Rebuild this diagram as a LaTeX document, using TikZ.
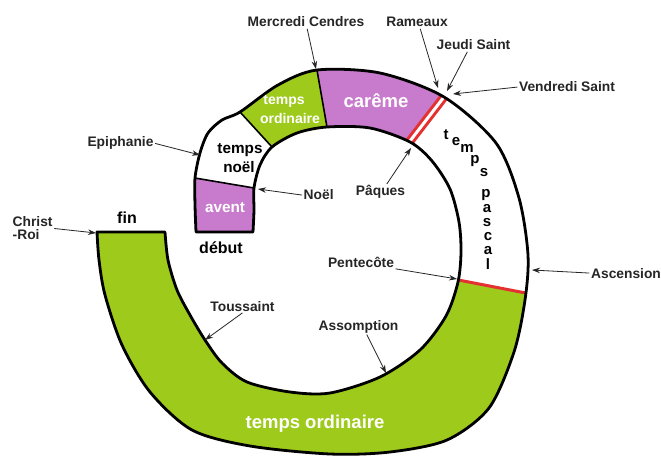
\documentclass[tikz,border=0pt]{standalone}
\usepackage{fontspec}
\setmainfont{Liberation Sans}
\usetikzlibrary{arrows.meta,calc}
\definecolor{ordgreen}{RGB}{158,202,28}
\definecolor{lentpurple}{RGB}{200,122,204}
\definecolor{feastred}{RGB}{228,48,48}
\definecolor{labelgray}{RGB}{38,38,38}
\tikzset{
  lbl/.style={font=\bfseries\fontsize{13.8}{13}\selectfont, text=labelgray, inner sep=1.5pt, anchor=base},
  ringtxt/.style={font=\bfseries\fontsize{#1}{#1}\selectfont, text=white, inner sep=0pt, anchor=base},
  darktxt/.style={font=\bfseries\fontsize{#1}{#1}\selectfont, text=black, inner sep=0pt, anchor=base},
  pletter/.style={font=\bfseries\fontsize{15}{15}\selectfont, text=black, inner sep=0pt, text height=0.52em, text depth=0pt},
  ptr/.style={draw=labelgray, line width=0.8pt, -{Stealth[length=8pt,width=5.5pt]}},
  seasonline/.style={draw=black, line width=1.6pt},
}
\begin{document}
\begin{tikzpicture}[x=1pt,y=-1pt]
\fill[white] (0,0) rectangle (661,457);
\useasboundingbox (0,0) rectangle (661,457);

\def\ringpath{plot[smooth] coordinates {(196,232) (195,205) (195,178) (200,153) (208,133) (222,120) (240,112) (278,85) (317,70) (380,73) (444,97) (496,143) (519,198) (528,255) (525,300) (514,352) (489,408) (447,440) (390,452) (330,454) (250,446) (192,430) (150,392) (122,345) (105,295) (99,260) (97,232)}
  -- plot[smooth] coordinates {(165,232) (168,260) (177,290) (190,315) (205,340) (222,363) (247,382) (290,392) (330,393) (380,377) (420,350) (446,316) (458,282) (461,252) (459,222) (450,189) (432,161) (410,142) (370,128) (327,127) (297,133) (272,147) (260,165) (254,188) (254,210) (253,232)} -- cycle}

% fills of the seasons
\begin{scope}
  \clip \ringpath;
  \fill[lentpurple] (180,233) -- (270,233) -- (270,190.7) -- (180,175.5) -- cycle;
  \fill[ordgreen] (224,94.5) -- (288,164.5) -- (331,150) -- (314,53) -- cycle;
  \fill[lentpurple] (314,53) -- (331,150) -- (400,154) -- (454,84) -- cycle;
  \fill[ordgreen] (448,278) -- (560,300) -- (580,470) -- (50,470) -- (50,225) -- (180,225) -- (180,240) -- (300,240) -- cycle;
  \draw[feastred, line width=9pt] (454,84) -- (400,154);
  \draw[white, line width=3pt] (454,84) -- (400,154);
  \draw[feastred, line width=3pt] (448,278) -- (536,295);
  \draw[seasonline] (180,175.5) -- (270,190.7);
  \draw[seasonline] (224,94.5) -- (288,164.5);
  \draw[seasonline] (314,53) -- (331,150);
\end{scope}
\draw[black, line width=2.8pt, line join=round] \ringpath;

% texts inside the ring
\node[ringtxt=15.3] (avent) at (225,213) {avent};
\node[darktxt=15.3] (tnoel1) at (240,154) {temps};
\node[darktxt=15.3] (tnoel2) at (239,173) {noël};
\node[ringtxt=14] (tord1) at (284,105) {temps};
\node[ringtxt=14] (tord2) at (290,124) {ordinaire};
\node[ringtxt=18.5] (careme) at (376,108) {carême};
\node[ringtxt=18.5] (tordbig) at (315,428) {temps ordinaire};
\node[darktxt=16] (debut) at (221,253) {début};
\node[darktxt=16] (fin) at (127,223) {fin};

\node[pletter] (p1) at (446,137) {t};
\node[pletter] (p2) at (456,143) {e};
\node[pletter] (p3) at (467,150) {m};
\node[pletter] (p4) at (475,161) {p};
\node[pletter] (p5) at (484,174) {s};
\node[pletter] (p6) at (486,195) {p};
\node[pletter] (p7) at (487,210) {a};
\node[pletter] (p8) at (487,224) {s};
\node[pletter] (p9) at (488,238) {c};
\node[pletter] (p10) at (488,252) {a};
\node[pletter] (p11) at (488,267) {l};

% labels
\node[lbl] (merc) at (306,27) {Mercredi Cendres};
\node[lbl] (ram) at (417,27) {Rameaux};
\node[lbl] (jeudi) at (473.5,50) {Jeudi Saint};
\node[lbl] (vend) at (567,92) {Vendredi Saint};
\node[lbl] (epi) at (120.5,147) {Epiphanie};
\node[lbl, anchor=base west] (noel) at (302,200) {Noël};
\node[lbl] (paq) at (380.5,196) {Pâques};
\node[lbl] (pent) at (361,267) {Pentecôte};
\node[lbl] (asc) at (626,278) {Ascension};
\node[lbl] (tous) at (242.5,311) {Toussaint};
\node[lbl] (asso) at (358.5,330) {Assomption};
\node[lbl, anchor=west, align=left] (christ) at (11,228.5) {Christ\\-Roi};

% arrow targets
\coordinate (mercT) at (316,69);
\coordinate (ramT) at (438,88);
\coordinate (jeudiT) at (447,91);
\coordinate (vendT) at (453,94);
\coordinate (epiT) at (200,155);
\coordinate (noelT) at (258,189);
\coordinate (paqT) at (411,148);
\coordinate (pentT) at (457,279);
\coordinate (ascT) at (532,270);
\coordinate (tousT) at (205,340);
\coordinate (assoT) at (386,373);
\coordinate (christT) at (96,233);

\draw[ptr] ($(merc.south west)!.51!(merc.south east)$) -- (mercT);
\draw[ptr] ($(ram.south west)!.55!(ram.south east)$) -- (ramT);
\draw[ptr] ($(jeudi.south west)!.42!(jeudi.south east)$) -- (jeudiT);
\draw[ptr] (vend.west) -- (vendT);
\draw[ptr] (epi.east) -- (epiT);
\draw[ptr] (noel.west) -- (noelT);
\draw[ptr] ($(paq.north west)!.62!(paq.north east)$) -- (paqT);
\draw[ptr] (pent.south east) -- (pentT);
\draw[ptr] (asc.west) -- (ascT);
\draw[ptr] (tous.south) -- (tousT);
\draw[ptr] ($(asso.south west)!.6!(asso.south east)$) -- (assoT);
\draw[ptr] (christ.east) -- (christT);
\end{tikzpicture}
\end{document}
